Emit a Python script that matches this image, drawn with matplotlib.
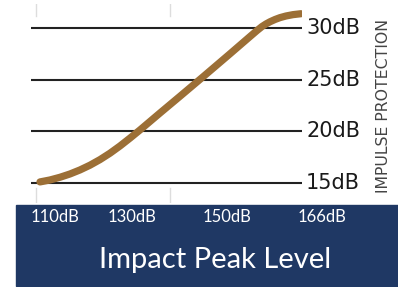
import matplotlib.pyplot as plt
from matplotlib.patches import Rectangle

# curve: position along the axis (% of width) vs impulse protection (dB)
pos = [3.32, 7.01, 10.70, 14.39, 18.08, 21.77, 25.46, 29.15, 32.84, 36.53,
       40.22, 47.60, 54.98, 63.47, 73.43, 80.81, 83.39, 85.24, 86.72, 88.19,
       90.04, 91.88, 94.10, 96.68, 99.63]
protection = [15.10, 15.29, 15.55, 15.87, 16.26, 16.72, 17.26, 17.88, 18.58,
              19.34, 20.13, 21.77, 23.39, 25.27, 27.50, 29.17, 29.75, 30.14,
              30.39, 30.60, 30.82, 31.00, 31.16, 31.29, 31.38]

y_levels = [15, 20, 25, 30]
y_labels = ["15dB", "20dB", "25dB", "30dB"]
x_labels = ["110dB", "130dB", "150dB", "166dB"]
x_label_pos = [55, 132, 227, 322]  # pixel centres in the band

W, H = 398, 287
fig = plt.figure(figsize=(W / 100, H / 100), dpi=100)

# main plot area: pixels x 31..302, y 4..203
ax = fig.add_axes([31 / W, 1 - 203 / H, (302 - 31) / W, (203 - 4) / H])
ax.set_xlim(0, 100)
ax.set_ylim(13.06, 32.32)
ax.axis("off")

for lv, lab in zip(y_levels, y_labels):
    ax.axhline(lv, color="#222222", lw=1.5, zorder=1)
    ax.text(101.5, lv, lab, ha="left", va="center", fontsize=15,
            color="#1a1a1a", family="DejaVu Sans", clip_on=False)

# faint vertical gridline stubs
for xv in [1.8, 51.3]:
    ax.axvline(xv, ymin=0.94, ymax=1.0, color="#dddddd", lw=1, zorder=0)
    ax.axvline(xv, ymin=0.0, ymax=0.075, color="#dddddd", lw=1, zorder=0)

ax.plot(pos, protection, color="#9c6f36", lw=5.2, solid_capstyle="round",
        solid_joinstyle="round", zorder=3)

fig.text(383 / W, 1 - 106 / H, "IMPULSE PROTECTION", rotation=90, ha="center",
         va="center", fontsize=11.3, color="#444444", family="DejaVu Sans")

# dark blue band at the bottom
fig.patches.append(Rectangle((16 / W, 1 - 286 / H), (398 - 16) / W, 81 / H,
                             transform=fig.transFigure, color="#1f3864", zorder=0))
for xl, lab in zip(x_label_pos, x_labels):
    fig.text(xl / W, 1 - 217 / H, lab, ha="center", va="center", fontsize=12,
             color="white", family="Lato")
fig.text(215 / W, 1 - 260 / H, "Impact Peak Level", ha="center", va="center",
         fontsize=21, color="white", family="Lato")

fig.savefig("out.png", dpi=100)
